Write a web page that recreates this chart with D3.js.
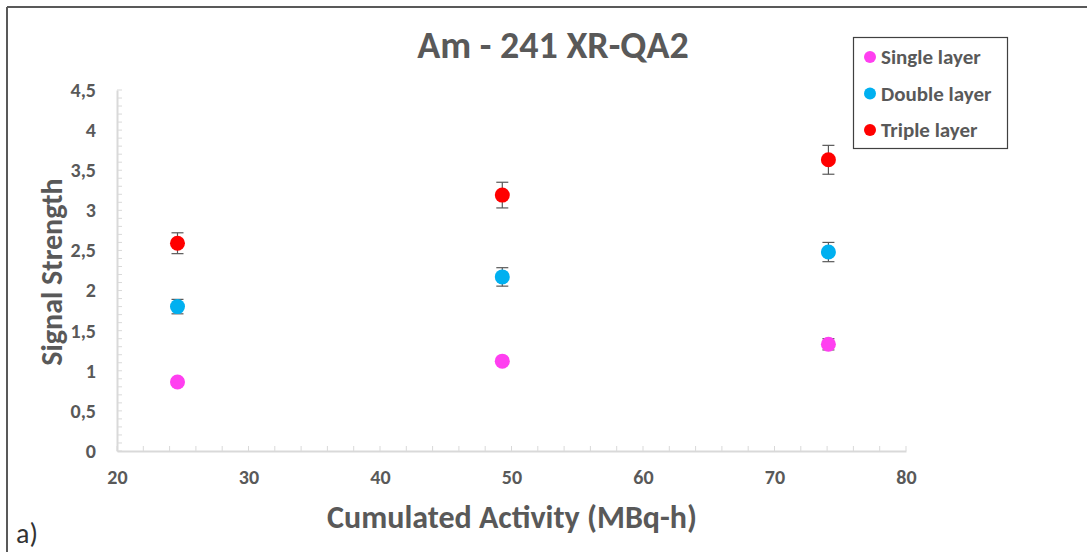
<!DOCTYPE html>
<html><head><meta charset="utf-8">
<script src="https://cdn.jsdelivr.net/npm/d3@7"></script>
<style>
body{margin:0;background:#fff;}
text{font-family:Carlito,Lato,"Open Sans",sans-serif;}
</style></head>
<body><svg id="c" width="1087" height="552"></svg>
<script>
const activity = [24.6, 49.3, 74.1];
const singleLayer = [0.86, 1.12, 1.33];
const doubleLayer = [1.80, 2.17, 2.48];
const tripleLayer = [2.59, 3.19, 3.63];
const singleErr = [0.04, 0.04, 0.07];
const doubleErr = [0.09, 0.115, 0.12];
const tripleErr = [0.13, 0.16, 0.18];
const seriesNames = ["Single layer", "Double layer", "Triple layer"];
const seriesColors = ["#ff3ff0", "#00b0f0", "#ff0000"];
const xTicks = [20, 30, 40, 50, 60, 70, 80];
const yTicks = [0, 0.5, 1, 1.5, 2, 2.5, 3, 3.5, 4, 4.5];

const svg = d3.select("#c");
const grey = "#595959";
// outer frame
svg.append("line").attr("x1",7).attr("x2",1087).attr("y1",7).attr("y2",7).attr("stroke","#595959").attr("stroke-width",2);
svg.append("line").attr("x1",7).attr("x2",7).attr("y1",7).attr("y2",552).attr("stroke","#595959").attr("stroke-width",2);

const x = d3.scaleLinear().domain([20,80]).range([117,906]);
const y = d3.scaleLinear().domain([0,4.5]).range([451,90]);

// minor ticks
const xMinor = d3.range(20, 80.001, 2);
svg.append("g").selectAll("line").data(xMinor).join("line")
  .attr("x1",d=>x(d)).attr("x2",d=>x(d)).attr("y1",451).attr("y2",446)
  .attr("stroke","#d9d9d9").attr("stroke-width",1);
const yMinor = d3.range(0, 4.5001, 0.1);
svg.append("g").selectAll("line").data(yMinor).join("line")
  .attr("x1",117).attr("x2",122).attr("y1",d=>y(d)).attr("y2",d=>y(d))
  .attr("stroke","#d9d9d9").attr("stroke-width",1);

// axes
const xAxis = svg.append("g").attr("transform","translate(0,451)")
  .call(d3.axisBottom(x).tickValues(xTicks).tickSize(0).tickPadding(19).tickFormat(d3.format("d")));
const yAxis = svg.append("g").attr("transform","translate(117,0)")
  .call(d3.axisLeft(y).tickValues(yTicks).tickSize(0).tickPadding(21).tickFormat(d=>String(d).replace(".",",")));
[xAxis,yAxis].forEach(a=>{
  a.select(".domain").attr("stroke","#d9d9d9").attr("stroke-width",2);
  a.selectAll("text").attr("fill",grey).attr("font-size",20).attr("font-weight","bold");
});

// title and labels
svg.append("text").attr("x",553).attr("y",58).attr("text-anchor","middle")
  .attr("font-size",38).attr("font-weight","bold").attr("fill",grey).text("Am - 241 XR-QA2");
svg.append("text").attr("x",512).attr("y",528).attr("text-anchor","middle")
  .attr("font-size",32).attr("font-weight","bold").attr("fill",grey).text("Cumulated Activity (MBq-h)");
svg.append("text").attr("transform","translate(62,272) rotate(-90)").attr("text-anchor","middle")
  .attr("font-size",30).attr("font-weight","bold").attr("fill",grey).text("Signal Strength");
svg.append("text").attr("x",16).attr("y",543).attr("font-size",28).attr("fill","#333").text("a)");

// data
const allSeries = [singleLayer, doubleLayer, tripleLayer];
const allErr = [singleErr, doubleErr, tripleErr];
allSeries.forEach((vals,si)=>{
  const g = svg.append("g");
  const pts = vals.map((v,i)=>({x:activity[i], y:v, e:allErr[si][i]}));
  g.selectAll("line.eb").data(pts).join("line").attr("class","eb")
    .attr("x1",d=>x(d.x)).attr("x2",d=>x(d.x)).attr("y1",d=>y(d.y-d.e)).attr("y2",d=>y(d.y+d.e))
    .attr("stroke","#595959").attr("stroke-width",1.2);
  ["top","bot"].forEach(k=>{
    g.selectAll("line."+k).data(pts).join("line").attr("class",k)
      .attr("x1",d=>x(d.x)-6).attr("x2",d=>x(d.x)+6)
      .attr("y1",d=>y(k==="top"?d.y+d.e:d.y-d.e)).attr("y2",d=>y(k==="top"?d.y+d.e:d.y-d.e))
      .attr("stroke","#595959").attr("stroke-width",1.2);
  });
  g.selectAll("circle").data(pts).join("circle")
    .attr("cx",d=>x(d.x)).attr("cy",d=>y(d.y)).attr("r",7.5).attr("fill",seriesColors[si]);
});

// legend
const lg = svg.append("g");
lg.append("rect").attr("x",853.5).attr("y",37.5).attr("width",154).attr("height",111)
  .attr("fill","#fff").attr("stroke","#404040").attr("stroke-width",1.2);
seriesNames.forEach((n,i)=>{
  const cy = 57 + i*36.5;
  lg.append("circle").attr("cx",870).attr("cy",cy).attr("r",6).attr("fill",seriesColors[i]);
  lg.append("text").attr("x",881).attr("y",cy+7).attr("font-size",21).attr("font-weight","bold")
    .attr("fill",grey).text(n);
});
</script></body></html>
